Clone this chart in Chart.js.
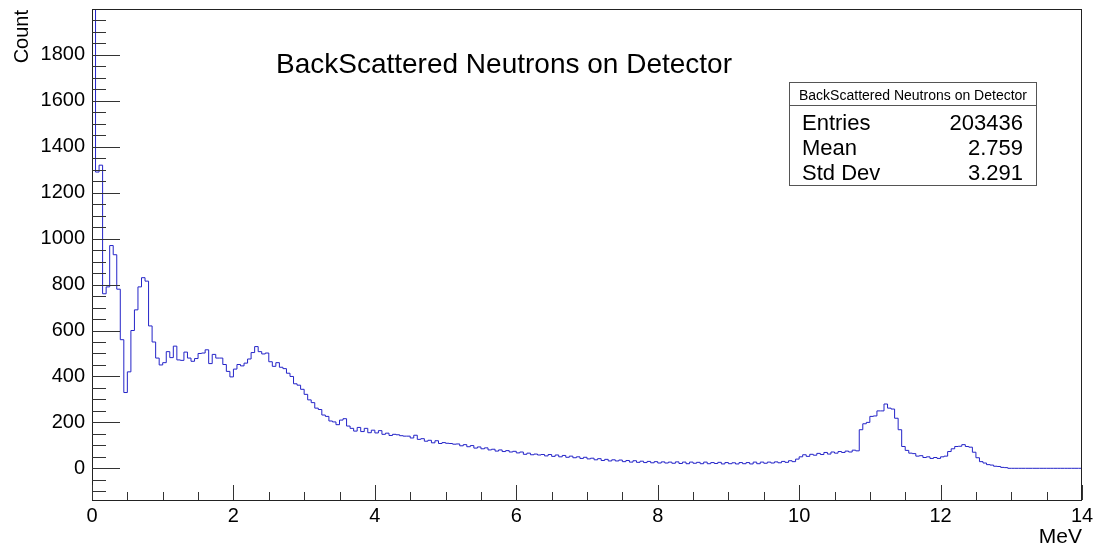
<!DOCTYPE html>
<html>
<head>
<meta charset="utf-8"/>
<title>BackScattered Neutrons on Detector</title>
<script src="https://cdn.jsdelivr.net/npm/chart.js"></script>
<style>
  body { margin: 0; background: #ffffff; }
  #wrap { width: 1100px; height: 548px; }
</style>
</head>
<body>
<div id="wrap"><canvas id="hist" width="1100" height="548"></canvas></div>
<script>
  // histogram binning (MeV)
  const xMin = 0, xMax = 14, binWidth = 0.05;
  const yMin = -138, yMax = 2000;
  const xTicks = [0, 2, 4, 6, 8, 10, 12, 14];
  const yTicks = [0, 200, 400, 600, 800, 1000, 1200, 1400, 1600, 1800];

  const titleText = 'BackScattered Neutrons on Detector';
  const statNames = ['Entries', 'Mean', 'Std Dev'];
  const statValues = ['203436', '2.759', '3.291'];

  // counts per 0.05 MeV bin, one row per MeV
  const counts = [
    2600, 1290, 1320, 760, 790, 970, 930, 780, 560, 330, 420, 600, 690, 790, 830, 815, 620, 550, 480, 450,
    460, 508, 482, 532, 472, 470, 506, 480, 466, 478, 500, 502, 516, 456, 496, 480, 480, 452, 422, 398,
    432, 452, 446, 458, 476, 504, 530, 508, 498, 502, 464, 444, 460, 440, 434, 414, 400, 368, 362, 344,
    322, 298, 286, 262, 256, 232, 226, 206, 202, 190, 210, 216, 184, 174, 162, 178, 160, 174, 155, 166,
    154, 164, 148, 153, 143, 148, 146, 142, 140, 140, 132, 144, 126, 129, 118, 122, 111, 120, 108, 112,
    109, 108, 105, 106, 98, 103, 94, 99, 88, 93, 85, 89, 80, 83, 75, 80, 73, 77, 71, 74,
    67, 71, 61, 66, 59, 62, 58, 60, 54, 60, 52, 58, 50, 56, 48, 53, 46, 50, 43, 48,
    41, 44, 37, 42, 34, 39, 32, 37, 32, 36, 29, 34, 27, 33, 26, 31, 25, 30, 24, 29,
    23, 28, 23, 27, 22, 28, 21, 27, 20, 27, 22, 26, 20, 27, 20, 25, 21, 26, 19, 25,
    20, 24, 19, 25, 20, 25, 19, 27, 20, 27, 22, 27, 23, 28, 24, 30, 26, 33, 29, 40,
    50, 59, 52, 61, 57, 65, 60, 69, 62, 71, 66, 73, 69, 75, 71, 79, 76, 168, 194, 200,
    226, 228, 250, 250, 280, 262, 258, 218, 168, 95, 78, 66, 64, 53, 55, 47, 50, 43, 47, 43,
    50, 53, 73, 85, 95, 96, 103, 95, 92, 70, 46, 29, 23, 16, 14, 9, 8, 4, 3, 0,
    0, 0, 0, 0, 0, 0, 0, 0, 0, 0, 0, 0, 0, 0, 0, 0, 0, 0, 0, 0
  ];

  // bin low edges + closing edge, so every bin gets its own flat step
  const points = counts.map((c, i) => ({ x: xMin + i * binWidth, y: c }));
  points.push({ x: xMax, y: counts[counts.length - 1] });

  const FONT = "'Liberation Sans', Arial, Helvetica, sans-serif";

  // ROOT style frame, inward ticks, title, stats box
  const rootDecor = {
    id: 'rootDecor',
    afterDraw(chart) {
      const ctx = chart.ctx;
      const a = chart.chartArea;
      const xs = chart.scales.x, ys = chart.scales.y;
      ctx.save();

      // frame
      ctx.strokeStyle = '#222';
      ctx.lineWidth = 1;
      ctx.strokeRect(a.left + 0.5, a.top + 0.5, a.right - a.left - 1, a.bottom - a.top);

      // y ticks
      ctx.strokeStyle = '#333';
      ctx.beginPath();
      for (let v = -100; v < yMax; v += 50) {
        const py = Math.round(ys.getPixelForValue(v)) + 0.5;
        const len = v % 200 === 0 ? 28 : 14;
        ctx.moveTo(a.left, py);
        ctx.lineTo(a.left + len, py);
      }
      // x ticks
      for (let v = xMin; v <= xMax + 1e-9; v += 0.5) {
        const px = Math.round(xs.getPixelForValue(v)) + 0.5;
        const len = Math.abs(v % 2) < 1e-9 ? 15 : 8;
        ctx.moveTo(px, a.bottom);
        ctx.lineTo(px, a.bottom - len);
      }
      ctx.stroke();

      // title
      ctx.fillStyle = '#000';
      ctx.font = '28px ' + FONT;
      ctx.textAlign = 'center';
      ctx.textBaseline = 'alphabetic';
      ctx.fillText(titleText, 504, 73);

      // axis titles
      ctx.font = '20px ' + FONT;
      ctx.save();
      ctx.translate(28, 10);
      ctx.rotate(-Math.PI / 2);
      ctx.textAlign = 'right';
      ctx.fillText('Count', 0, 0);
      ctx.restore();
      ctx.font = '21px ' + FONT;
      ctx.textAlign = 'right';
      ctx.fillText('MeV', 1082, 543);

      // stats box
      const bx = 789.5, by = 82.5, bw = 247, bh = 103;
      ctx.fillStyle = '#fff';
      ctx.fillRect(bx, by, bw, bh);
      ctx.strokeStyle = '#555';
      ctx.strokeRect(bx, by, bw, bh);
      ctx.beginPath();
      ctx.moveTo(bx, 105.5);
      ctx.lineTo(bx + bw, 105.5);
      ctx.stroke();
      ctx.fillStyle = '#000';
      ctx.font = '14px ' + FONT;
      ctx.textAlign = 'center';
      ctx.fillText(titleText, bx + bw / 2, 100);
      ctx.font = '22px ' + FONT;
      statNames.forEach((n, i) => {
        const base = 130 + i * 25;
        ctx.textAlign = 'left';
        ctx.fillText(n, 802, base);
        ctx.textAlign = 'right';
        ctx.fillText(statValues[i], 1023, base);
      });

      ctx.restore();
    }
  };

  new Chart(document.getElementById('hist'), {
    type: 'line',
    data: {
      datasets: [{
        data: points,
        stepped: 'before',
        borderColor: '#2424c8',
        borderWidth: 1,
        pointRadius: 0,
        fill: false,
        clip: { left: 0, top: 0, right: 0, bottom: 0 }
      }]
    },
    options: {
      responsive: false,
      animation: false,
      devicePixelRatio: 1,
      layout: { padding: { top: 9, right: 18, left: 0, bottom: 0 } },
      plugins: { legend: { display: false }, tooltip: { enabled: false } },
      scales: {
        x: {
          type: 'linear',
          min: xMin,
          max: xMax,
          grid: { display: false, drawTicks: false },
          border: { display: false },
          ticks: { color: '#000', font: { size: 20, family: FONT }, padding: 4, maxRotation: 0, callback: v => String(v) },
          afterBuildTicks: s => { s.ticks = xTicks.map(v => ({ value: v })); },
          afterFit: s => { s.height = 48; s.paddingLeft = 0; s.paddingRight = 0; }
        },
        y: {
          type: 'linear',
          min: yMin,
          max: yMax,
          grid: { display: false, drawTicks: false },
          border: { display: false },
          ticks: { color: '#000', font: { size: 20, family: FONT }, padding: 7, callback: v => String(v) },
          afterBuildTicks: s => { s.ticks = yTicks.map(v => ({ value: v })); },
          afterFit: s => { s.width = 92; s.paddingTop = 0; s.paddingBottom = 0; }
        }
      }
    },
    plugins: [rootDecor]
  });
</script>
</body>
</html>
